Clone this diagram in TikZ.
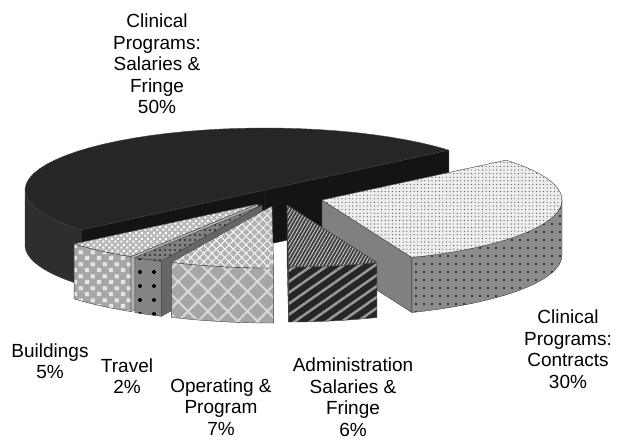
\documentclass[tikz,border=0pt]{standalone}
\usepackage{fontspec}
\setmainfont{Liberation Sans}
\usepackage{tikz}
\usetikzlibrary{patterns, patterns.meta}

% square tiles for the buildings slice
\pgfdeclarepatternformonly{bigsquares}{\pgfqpoint{0pt}{0pt}}{\pgfqpoint{12pt}{12pt}}{\pgfqpoint{12pt}{12pt}}{%
  \pgfpathrectangle{\pgfqpoint{1pt}{1pt}}{\pgfqpoint{4.5pt}{4.5pt}}%
  \pgfpathrectangle{\pgfqpoint{7pt}{7pt}}{\pgfqpoint{4.5pt}{4.5pt}}%
  \pgfusepath{fill}}
\pgfdeclarepatternformonly{smallsquares}{\pgfqpoint{0pt}{0pt}}{\pgfqpoint{6pt}{6pt}}{\pgfqpoint{6pt}{6pt}}{%
  \pgfpathrectangle{\pgfqpoint{0.5pt}{0.5pt}}{\pgfqpoint{2.3pt}{2.3pt}}%
  \pgfpathrectangle{\pgfqpoint{3.5pt}{3.5pt}}{\pgfqpoint{2.3pt}{2.3pt}}%
  \pgfusepath{fill}}

% pie size
\newcommand{\pierx}{240}
\newcommand{\piery}{62}
\newcommand{\pieh}{55}
% top face: style, apex x, apex y, start, end
\newcommand{\slicetop}[5]{\path[#1] (#2,#3) -- plot[domain=#4:#5,samples=40,variable=\t]
  ({#2+\pierx*cos(\t)},{#3-\piery*sin(\t)}) -- cycle;}
% outer wall
\newcommand{\slicewall}[5]{\path[#1] plot[domain=#4:#5,samples=40,variable=\t]
  ({#2+\pierx*cos(\t)},{#3-\piery*sin(\t)}) -- plot[domain=#5:#4,samples=40,variable=\t]
  ({#2+\pierx*cos(\t)},{#3+\pieh-\piery*sin(\t)}) -- cycle;}
% cut face along one radius
\newcommand{\sliceside}[4]{\path[#1] (#2,#3) -- ({#2+\pierx*cos(#4)},{#3-\piery*sin(#4)})
  -- ++(0,\pieh) -- (#2,{#3+\pieh}) -- cycle;}

\begin{document}
\begin{tikzpicture}[x=1pt, y=-1pt,
    face/.style={draw=black!75, line width=0.4pt, line join=round},
    label/.style={align=center, font=\fontsize{19}{21.5}\selectfont}]
  \useasboundingbox (0,0) rectangle (619,440);
  % Salaries and fringe (back half)
  \slicewall{face, fill=black!82}{265}{190}{180}{220}
  \slicetop{face, fill=black!85}{265}{190}{40}{220}
  \sliceside{face, fill=black!92}{265}{190}{40}
  \sliceside{face, fill=black!92}{265}{190}{220}
  % Contracts
  \sliceside{face, fill=black!50}{322}{200}{292}
  \slicewall{face, preaction={fill=black!45}, pattern={Dots[radius=1.1pt,distance=8pt]}, pattern color=black!90}{322}{200}{292}{360}
  \slicetop{face, preaction={fill=black!7}, pattern={Dots[radius=0.6pt,distance=3.6pt]}, pattern color=black!70}{322}{200}{292}{400}
  % Administration
  \sliceside{face, fill=black!80}{287}{205}{270.4}
  \slicewall{face, preaction={fill=black!85}, pattern={Lines[angle=35,distance=9pt,line width=2.5pt]}, pattern color=black!40}{287}{205}{270.4}{292}
  \slicetop{face, preaction={fill=black!75}, pattern={Lines[angle=60,distance=3pt,line width=0.8pt]}, pattern color=black!15}{287}{205}{270.4}{292}
  % Buildings
  \sliceside{face, fill=black!30}{258}{204}{238}
  \slicewall{face, preaction={fill=black!35}, pattern=bigsquares, pattern color=black!10}{258}{204}{220}{238}
  \slicetop{face, preaction={fill=black!28}, pattern=smallsquares, pattern color=white}{258}{204}{220}{238}
  % Travel
  \sliceside{face, fill=black!60}{262}{205}{245.2}
  \slicewall{face, preaction={fill=black!48}, pattern={Dots[radius=2pt,distance=14pt]}, pattern color=black}{262}{205}{238}{245.2}
  \slicetop{face, preaction={fill=black!50}, pattern={Dots[radius=0.8pt,distance=5pt]}, pattern color=black}{262}{205}{238}{245.2}
  % Operating and program
  \slicewall{face, preaction={fill=black!35}, pattern={Hatch[angle=45,distance=14pt,line width=2pt]}, pattern color=black!15}{272}{206}{245.2}{270.4}
  \slicetop{face, preaction={fill=black!30}, pattern={Hatch[angle=45,distance=6pt,line width=0.8pt]}, pattern color=white}{272}{206}{245.2}{270.4}
  % Labels
  \node[label] (salaries) at (157,64) {Clinical\\Programs:\\Salaries \&\\Fringe\\50\%};
  \node[label] (buildings) at (50,361) {Buildings\\5\%};
  \node[label] (travel) at (127,376) {Travel\\2\%};
  \node[label] (operating) at (221,407) {Operating \&\\Program\\7\%};
  \node[label] (admin) at (353,397) {Administration\\Salaries \&\\Fringe\\6\%};
  \node[label] (contracts) at (568,349) {Clinical\\Programs:\\Contracts\\30\%};
\end{tikzpicture}
\end{document}
